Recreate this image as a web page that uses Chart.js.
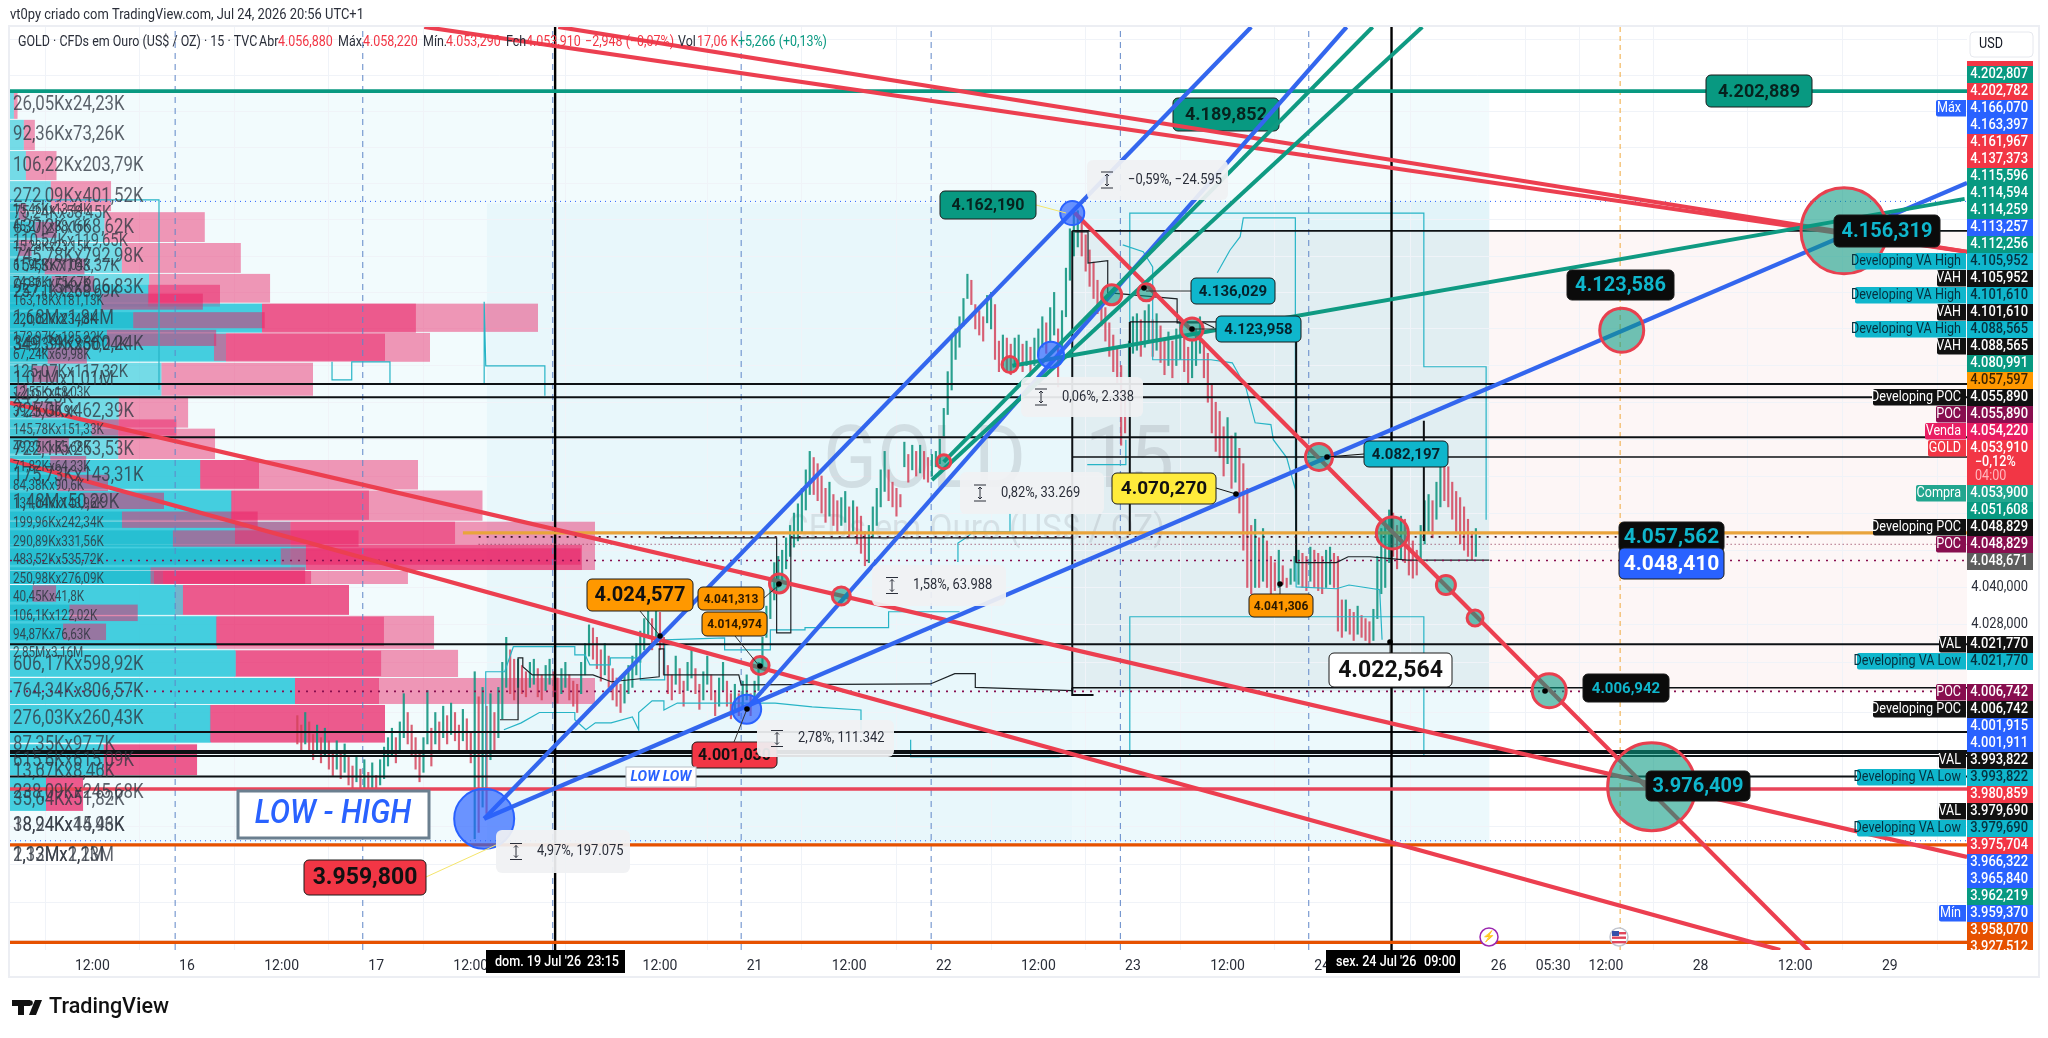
<!DOCTYPE html>
<html>
<head>
<meta charset="utf-8">
<title>GOLD 15</title>
<style>html,body{margin:0;padding:0;background:#fff}canvas{display:block}</style>
<script src="https://cdn.jsdelivr.net/npm/chart.js@4/dist/chart.umd.min.js"></script>
</head>
<body>
<canvas id="grafico" width="2048" height="1038"></canvas>
<script>
// hours counted from 16 Jul 00:00 on the trading time axis
var xTickHours = [-12, 0, 12, 24, 36, 60, 72, 84, 96, 108, 120, 132, 144, 166.4, 173.3, 180, 192, 204, 216];
var xTickLabels = ["12:00", "16", "12:00", "17", "12:00", "12:00", "21", "12:00", "22", "12:00", "23", "12:00", "24", "26", "05:30", "12:00", "28", "12:00", "29"];
var priceTicks = [3928, 3940, 3952, 3964, 3976, 3988, 4000, 4016, 4028, 4040, 4052, 4064, 4076, 4088, 4100, 4112, 4124, 4136, 4148, 4160, 4172, 4184, 4196, 4208, 4220];
var sessionBreaks = [-1.5, 22.3, 46.4, 70.3, 94.4, 118.4, 142.3];
var crossHours = [46.7, 152.8];

// half hour bars starting at hour 14
var candleStart = 14;
var candleHigh = [3999,3996,4000,3997,3993,3996,3992,3995,3991,3988,3991,3987,3990,3986,3983,3986,3982,3985,3981,3984,3980,
3985,3989,3992,3995,3992,3997,4006,4000,3996,3992,3988,3992,4007,3995,
4000,3997,4002,3999,4003,4000,3996,4001,3998,3994,4013,4005,4008,
4002,4006,4000,4008,4016,4024,4020,4017,
4017,4015,4013,4016,4017,4014,4012,4015,4017,4013,4011,4014,4016,4012,4010,4009,
4016,4022,4028,4027,4024,4020,4022,4018,4014,4011,4009,4012,4015,4018,4022,4026,4030,4036,4030,4034,
4032,4024,4015,4012,4018,4014,4010,4016,4020,4014,4009,4013,4018,4012,4007,4011,4016,4010,4006,4009,4006,4010,4012,
4006,4010,4016,4024,4034,4040,4048,4050,4052,4056,4060,4064,4067,4072,4078,4084,4082,
4080,4076,4072,4074,4070,4068,4069,4071,4066,4068,4066,4063,4058,4060,4066,4072,4078,4084,4078,4074,4072,4070,4087,4083,
4086,4084,4086,4084,4082,4083,4084,4088,
4098,4110,4122,4124,4128,4134,4142,4140,4132,4130,4128,4135,4136,4132,
4120,4122,4121,4119,4121,4122,4119,4120,4118,4121,4124,4128,4126,4131,4136,4124,4130,4144,4157,4163,
4163,4160,4155,4150,4146,4140,4136,4131,4126,4122,4118,4112,4104,4120,4128,4129,4127,4130,4132,4127,4129,4125,4121,4123,4120,4124,4126,4122,4118,4120,4124,4128,4120,4116,
4106,4100,4097,4092,4095,4089,4090,4085,4080,4072,4060,4062,4056,4059,4055,4050,4048,4052,4047,4043,4046,4050,4052,4051,4050,4053,4052,4051,4050,4052,4053,4051,
4050,4036,4036,4033,4032,4034,4031,4030,4029,4033,4050,4059,
4062,4065,4064,4060,4063,4062,4058,4055,4052,4060,4068,4070,4068,4074,4082,4080,4079,4074,4071,4069,4066,4062,4058,4059];
var candleLow = [3990,3988,3990,3987,3985,3987,3984,3986,3982,3980,3982,3979,3981,3977,3976,3978,3975,3976,3973,3976,3972,
3977,3979,3983,3986,3984,3987,3992,3990,3986,3982,3978,3981,3990,3983,
3990,3988,3992,3990,3993,3991,3987,3991,3988,3984,3960,3962,3970,
3968,3985,3988,3992,3998,4008,4006,4004,
4008,4006,4005,4008,4009,4005,4004,4007,4009,4005,4003,4006,4008,4004,4002,4000,
4006,4012,4018,4017,4014,4010,4012,4008,4004,4002,4000,4003,4006,4008,4012,4016,4020,4024,4020,4022,
4020,4012,4006,4004,4009,4006,4002,4007,4011,4006,4001,4004,4009,4004,3999,4002,4007,4002,3998,4001,3999,4002,4004,
3999,4003,4007,4014,4024,4030,4036,4040,4042,4046,4050,4053,4055,4058,4065,4070,4070,
4068,4064,4061,4063,4060,4058,4060,4061,4056,4058,4054,4051,4047,4048,4056,4060,4066,4071,4068,4066,4063,4066,4079,4074,
4078,4076,4077,4075,4074,4076,4079,4080,
4089,4096,4104,4114,4118,4125,4134,4132,4124,4122,4120,4126,4124,4114,
4110,4112,4110,4109,4112,4113,4110,4112,4109,4112,4115,4118,4116,4120,4122,4105,4116,4128,4140,4148,
4151,4148,4143,4138,4134,4129,4125,4120,4115,4110,4106,4086,4090,4108,4116,4117,4115,4118,4120,4115,4117,4113,4109,4112,4108,4112,4114,4110,4106,4108,4112,4116,4108,4100,
4090,4084,4082,4076,4080,4072,4074,4064,4052,4040,4038,4040,4040,4042,4040,4038,4039,4040,4041,4040,4041,4042,4041,4040,4039,4042,4040,4039,4038,4040,4041,4040,
4026,4024,4026,4025,4023,4025,4024,4023,4022,4023,4030,4038,
4040,4048,4050,4046,4049,4048,4044,4043,4044,4048,4054,4058,4056,4062,4066,4068,4066,4062,4058,4054,4052,4050,4049,4050];

// large volume profile, row edges in price, volumes in thousands
var bigRowEdges = [4202.8,4193.2,4182.8,4172.8,4162.5,4152.3,4142.1,4132.3,4122.7,4112.9,4101.8,4091.4,4081.2,4071.3,4061.2,4045.3,4040.8,4030.9,4020,4011,4002.4,3990,3979.8,3968.5];
var bigBuy = [26.05,92.36,106.22,272.09,630,745.78,927,1680,1440,1010,725,722,1270,1480,1870,1020,1100,1380,1500,1900,1340,620,240];
var bigSell = [24.23,73.26,203.79,401.52,668.62,792.98,806.83,1840,1360,1010,462.39,644.85,1450,1670,2030,1633,1160,1447,1487,2000,1160,627,247];

// second profile laid over the first one
var midRowTop = [4138.5,4132.3,4122.4,4081.2,4071.3,4061.2,4053.7,4045.3,4040.8,4030.6,4019.7,4011,4002.4,3989.7,3979.2];
var midRowBottom = [4131,4122.4,4113.2,4071.6,4061.5,4053.7,4045.3,4040.8,4030.9,4020.9,4011.3,4002.4,3990.3,3979.8,3968.5];
var midBuy = [920,1680,1360,1267,1473,1500,1973,960,1153,1373,1507,1900,1333,627,240];
var midSell = [480,1026,1140,393,920,1467,1840,1047,1107,1120,967,560,1167,620,247];

// small profile, one row per traded level
var smallRowPrice = [4162.5,4156.5,4150.5,4144.4,4138.6,4132.8,4126.7,4120.9,4115.1,4109.1,4103.5,4097.4,4091.6,4085.8,4079.7,4073.6,4067.8,4061.7,4055.6,4049.8,4043.7,4037.9,4031.7,4025.6];
var smallBuy = [15.46,45.27,15.28,61.95,74.36,163.18,220.02,172.97,67.24,40,12.55,39.2,145.78,49.35,71.82,84.38,131.04,199.96,290.89,483.52,250.98,40.45,106.1,94.87];
var smallSell = [13.44,38.16,23.15,71.04,75.67,181.13,234.8,195.22,69.98,46,18.03,50.9,151.33,55.68,64.33,90.6,143.96,242.34,331.56,535.72,276.09,41.8,122.02,76.63];

var bigLabels = ["26,05Kx24,23K","92,36Kx73,26K","106,22Kx203,79K","272,09Kx401,52K","630,2Kx668,62K","745,78Kx792,98K","927,15Kx806,83K","1,68Mx1,84M","349,39Kx360,24K","1,01Mx1,01M","x49,25K","725,0Kx462,39K","722,1Kx253,53K","175,73Kx143,31K","1,48Mx50,29K","606,17Kx598,92K","764,34Kx806,57K","276,03Kx260,43K","87,35Kx97,7K","615,6Kx615,09K","13,67Kx8,46K","238,09Kx245,68K","35,64Kx51,82K","38,24Kx45,93K","18,94Kx14,46K","2,13Mx2,1M","1,32Mx1,23M"];
var bigLabelTop = [105,135,166,197,228,257,288,319,345,380,398,412,450,476,503,665,692,719,745,761,772,793,800,826,826,856,856];
var smallLabels = ["15,46Kx13,44K","45,27Kx38,16K","15,28Kx23,15K","61,95Kx71,04K","74,36Kx75,67K","163,18Kx181,13K","220,02Kx234,8K","172,97Kx195,22K","67,24Kx69,98K","12,55Kx18,03K","39,2Kx50,9K","145,78Kx151,33K","49,35Kx55,68K","71,82Kx64,33K","84,38Kx90,6K","131,04Kx143,96K","199,96Kx242,34K","290,89Kx331,56K","483,52Kx535,72K","250,98Kx276,09K","40,45Kx41,8K","106,1Kx122,02K","94,87Kx76,63K","2,85Mx3,16M"];
var smallLabelTop = [210,227,247,266,283,301,320,338,355,393,412,430,448,467,486,504,523,542,560,579,597,616,635,653];
var midLabels = ["75,24Kx58,45K","110,54Kx119,65K","154,3Kx163,37K","257,1Kx268,69K","349,39Kx360,24K","125,07Kx117,32K"];
var midLabelTop = [213,241,266,292,345,372];

// circles placed on the trend lines
var redRingHours = [185.8,210.2,182,172.8,152.9,143.6,159.7,163.4,127.5,121.7,117.3,104.4,96,75.1,83,72.7];
var redRingPrices = [3976.409,4156.319,4123.586,4006.942,4057.562,4082.197,4040.8,4030.2,4123.958,4136.029,4135.2,4112.3,4080.6,4041.313,4037.3,4014.974];
var blueRingHours = [37.7,71,109.6,112.3];
var blueRingPrices = [3966.3,4001.03,4115.5,4162.19];

// developing value area outlines, null breaks the line
var vaHours = [-22.45,-3.55,-3.55,null,18.4,18.4,20.9,20.9,25.75,25.75,37.7,37.7,37.9,45.4,45.4,null,
37.9,37.9,40.3,41.4,49.2,49.2,50.5,51.1,53.7,53.7,57.5,57.5,60.6,60.6,68.2,68.2,74,74,78.4,78.4,80.7,89,89,98,null,
40.2,42.4,44.7,49.2,49.2,50.6,51.8,53.8,56.5,57.3,57.3,59,60.5,60.5,62.2,74.6,79.3,85.5,85.5,null,
119.6,119.6,156.9,156.9,null,91.8,91.8,110.7,null,
119.6,119.6,156.9,156.9,164.8,164.8,null,
130.7,132.3,133.6,134,140.6,140.6,null,
97.7,97.8,99,99.7,104.4,104.4,null,
118.7,121.3,122.5,122.5,129.9,132.6,134.3,135.5,137.5,137.8,139.5,140.6,140.7,145.8,147.4,151.3,151.6,null,114.2,119.1,119.1];
var vaPrices = [4166.6,4166.6,4104.1,null,4113.2,4107.3,4107.3,4113.2,4113.2,4106,4106,4132.9,4111.9,4111.9,4102.1,null,
3975.4,4013,4013,4021,4021,4018.4,4018.4,4015.2,4015.2,4017.4,4017.4,4010.4,4010.4,4023.2,4023.8,4020,4020,4026.4,4026.4,4027.1,4027.1,4027.1,4032.2,4032.2,null,
3994.5,3996.7,4000,4000,3997.7,3994.5,3996.7,3996.7,3998.6,3994.5,4000,4003.7,4003.7,4000.8,4003,4003,4001.8,4000.8,3994.5,null,
3985.9,4030.6,4030.6,3985.9,null,3991.3,3985.9,3985.9,null,
4105.7,4162.2,4162.2,4111.6,4111.6,4061.8,null,
4142.5,4149.9,4154.4,4160.6,4160.6,4071.6,null,
4048.4,4054.3,4056.3,4057.9,4057.9,4064,null,
4151.7,4149.4,4144.4,4113.9,4113.9,4112.9,4105,4093.3,4092.7,4087.8,4082,4071.6,4040.2,4039.6,4040.8,4039.3,4023.2,null,4079.7,4079.7,4087.8];

// developing point of control
var pocHours = [39.7,42,42,42.6,42.6,43.8,51.5,53.8,59.9,59.9,60.5,60.5,70,70.3,94.3,97.4,100,100,112.3,null,
112.6,114.3,114.3,116.8,116.8,125.6,125.6,129,130.3,null,140.7,145.8,147.3,150.1,154.8,165.2,null,
60,74.8,74.8,76.6,76.6,112.3];
var pocPrices = [3997.7,3997.7,4017.4,4017.4,4014.6,4012,4012,4009.8,4011.4,4020.3,4020.3,4012,4012,4008.8,4009.1,4012.4,4012.4,4008,4007,null,
4156,4156,4145.7,4146.5,4135.9,4133.9,4126,4126,4124.4,null,4048,4048,4049.9,4049.9,4048.8,4048.8,null,
4056,4056,4025.4,4025.4,4056,4056];

// [hour, price, hour, price]
var redLines = [[30.1,4224.3,225.8,4149.4],[47.1,4224.3,225.8,4149.4],[-22.45,4099.8,225.8,3954.3],[-22.45,4081.2,202.1,3925.1],[112.6,4162.3,205.8,3924.8]];
var blueLines = [[37.7,3966.3,135,4224.3],[37.7,3966.3,225.8,4172.2],[71,4001.2,147.1,4224.3]];
var greenLines = [[96,4080.6,150.4,4224.3],[94.5,4074.7,156.7,4224.3],[104.7,4111.9,225.5,4166.9]];
var levelsThick = [4105.952,4101.61,4088.565,4021.77,3993.822,3987.8,3987.1,3986.2,3979.69];
var levelsFromBox = [4156.319,4082.197,4007.9];
var boxEdges = [[112.3,4156.319,4006.7],[119.6,4126.3,4057],[140.7,4123.7,4048],[156.9,4094,4055]];

var X_LEFT = -22.45, X_RIGHT = 225.8, Y_MIN = 3925.1, Y_MAX = 4224.3;
var BOX_START = 112.3, LAST_BAR = 165.2;
var FONT = "Roboto, sans-serif";

function line(points, color, width, dash) {
	return {type: "line", data: points, borderColor: color, backgroundColor: color, borderWidth: width, borderDash: dash || [], pointRadius: 0, tension: 0, spanGaps: false};
}
function pairs(h, p) {
	var out = [];
	for (var i = 0; i < h.length; i++) out.push({x: h[i], y: p[i]});
	return out;
}

var datasets = [];
sessionBreaks.forEach(function(h){ datasets.push(line([{x:h,y:Y_MIN},{x:h,y:Y_MAX}], "#5f86c8", 1, [6,5])); });
datasets.push(line([{x:181.8,y:Y_MIN},{x:181.8,y:Y_MAX}], "#f0a83c", 1, [5,4]));

var wicks = [], wickColors = [];
candleHigh.forEach(function(hi, i){
	wicks.push({x: candleStart + i * 0.5, y: [candleLow[i], hi]});
	wickColors.push(i > 0 && hi >= candleHigh[i - 1] ? "rgba(20,150,130,0.9)" : "rgba(212,68,92,0.85)");
});
datasets.push({type: "bar", data: wicks, backgroundColor: wickColors, barThickness: 1.5, borderWidth: 0});

datasets.push(line(pairs(vaHours, vaPrices), "#27b4c6", 1.2));
datasets.push(line(pairs(pocHours, pocPrices), "#1c2226", 1.2));

levelsThick.forEach(function(v){ datasets.push(line([{x:X_LEFT,y:v},{x:X_RIGHT,y:v}], "#0d1114", 2)); });
levelsFromBox.forEach(function(v){ datasets.push(line([{x:BOX_START,y:v},{x:X_RIGHT,y:v}], "#0d1114", 1.6)); });
boxEdges.forEach(function(b){ datasets.push(line([{x:b[0],y:b[1]},{x:b[0],y:b[2]}], "#0d1114", 2)); });
datasets.push(line([{x:112.3,y:4007.9},{x:112.3,y:4005.6},{x:115,y:4005.6}], "#0d1114", 2));
datasets.push(line([{x:119.6,y:4126.3},{x:140.7,y:4126.3}], "#0d1114", 1.2));
crossHours.forEach(function(h){ datasets.push(line([{x:h,y:Y_MIN},{x:h,y:Y_MAX}], "#000", 2.4)); });

datasets.push(line([{x:X_LEFT,y:4166.07},{x:X_RIGHT,y:4166.07}], "#2962ff", 1, [1,4]));
datasets.push(line([{x:X_LEFT,y:3959.37},{x:X_RIGHT,y:3959.37}], "#2962ff", 1, [1,4]));
datasets.push(line([{x:37,y:4056.3},{x:X_RIGHT-20,y:4056.3}], "#3a1020", 1.6, [2,6]));
datasets.push(line([{x:37,y:4053.91},{x:X_RIGHT,y:4053.91}], "#8a2a4a", 1, [1,3]));
datasets.push(line([{x:X_LEFT,y:4048.671},{x:X_RIGHT,y:4048.671}], "#880e4f", 1.6, [2,6]));
datasets.push(line([{x:X_LEFT,y:4006.742},{x:X_RIGHT,y:4006.742}], "#880e4f", 1.6, [2,6]));

datasets.push(line([{x:X_LEFT,y:4202.8},{x:X_RIGHT,y:4202.8}], "#089981", 3.6));
datasets.push(line([{x:35,y:4057.597},{x:X_RIGHT,y:4057.597}], "#e9a43c", 3.2));
datasets.push(line([{x:X_LEFT,y:3975.7},{x:X_RIGHT,y:3975.7}], "#e8455a", 3.6));
datasets.push(line([{x:X_LEFT,y:3958.07},{x:X_RIGHT,y:3958.07}], "#e65100", 3.2));
datasets.push(line([{x:X_LEFT,y:3927.512},{x:X_RIGHT,y:3927.512}], "#e65100", 3.2));

redLines.forEach(function(l){ datasets.push(line([{x:l[0],y:l[1]},{x:l[2],y:l[3]}], "#ec3f50", 4.2)); });
blueLines.forEach(function(l){ datasets.push(line([{x:l[0],y:l[1]},{x:l[2],y:l[3]}], "#3366ee", 4.2)); });
greenLines.forEach(function(l){ datasets.push(line([{x:l[0],y:l[1]},{x:l[2],y:l[3]}], "#0f9a82", 4)); });

datasets.push({type: "scatter", data: pairs(redRingHours, redRingPrices), showLine: false,
	pointRadius: [44,43,22,17,16,13.5,9.5,8,11,8.5,10,8,7,9.5,9,9],
	pointBackgroundColor: "rgba(8,153,129,0.58)", pointBorderColor: "#e8404f", pointBorderWidth: 3});
datasets.push({type: "scatter", data: pairs(blueRingHours, blueRingPrices), showLine: false,
	pointRadius: [30,14.5,13,12],
	pointBackgroundColor: "rgba(41,98,255,0.68)", pointBorderColor: "#2962ff", pointBorderWidth: 2});

// later entries are painted on top
datasets.forEach(function(d, i){ d.order = datasets.length - i; d.clip = 0; });

function text(ctx, str, x, y, size, color, align, weight, squeeze) {
	ctx.save();
	ctx.translate(x, y);
	ctx.scale(squeeze || 1, 1);
	ctx.font = (weight || "400") + " " + size + "px " + FONT;
	ctx.textAlign = align || "left";
	ctx.textBaseline = "middle";
	ctx.fillStyle = color;
	ctx.fillText(str, 0, 0);
	ctx.restore();
}
function band(ctx, c, h0, h1, p0, p1, color) {
	var x0 = c.scales.x.getPixelForValue(h0), x1 = c.scales.x.getPixelForValue(h1);
	var y0 = c.scales.y.getPixelForValue(p0), y1 = c.scales.y.getPixelForValue(p1);
	ctx.fillStyle = color;
	ctx.fillRect(x0, y0, x1 - x0, y1 - y0);
}
function volumeRow(ctx, c, axis, top, bottom, buy, sell, blue, pink) {
	var s = c.scales[axis], y0 = c.scales.y.getPixelForValue(top), y1 = c.scales.y.getPixelForValue(bottom);
	var a = s.getPixelForValue(0), b = s.getPixelForValue(buy), e = s.getPixelForValue(buy + sell);
	ctx.fillStyle = blue;
	ctx.fillRect(a, y0, b - a, y1 - y0 - 1);
	ctx.fillStyle = pink;
	ctx.fillRect(b, y0, e - b, y1 - y0 - 1);
}
function tag(ctx, b) {
	ctx.fillStyle = b[5];
	ctx.strokeStyle = "#1a1a1a";
	ctx.lineWidth = 1;
	ctx.beginPath();
	ctx.roundRect(b[1], b[2], b[3] - b[1], b[4] - b[2], 5);
	ctx.fill();
	ctx.stroke();
	text(ctx, b[0], (b[1] + b[3]) / 2, (b[2] + b[4]) / 2 + 1, b[7], b[6], "center", "700");
}

// [text, left, top, right, bottom, fill, ink, size]
var calloutsUnder = [
	["4.189,852",1173,98,1279,131,"#089981","#06231e",18]
];
var callouts = [
	["4.202,889",1706,75,1812,107,"#089981","#06231e",18],
	["4.162,190",940,191,1036,219,"#089981","#06231e",16],
	["4.136,029",1191,278,1275,304,"#0fb6cc","#06222b",15],
	["4.123,958",1216,316,1301,342,"#0fb6cc","#06222b",15],
	["4.082,197",1364,441,1448,467,"#0fb6cc","#06222b",15],
	["4.070,270",1112,473,1216,504,"#ffeb3b","#111",19],
	["4.041,306",1249,594,1313,617,"#ff9800","#2a1800",12],
	["4.022,564",1329,653,1452,687,"#ffffff","#111",23],
	["4.006,942",1583,674,1669,702,"#0b0b0b","#0fb6cc",15],
	["4.057,562",1619,522,1724,552,"#0b0b0b","#0fb6cc",21],
	["4.048,410",1619,548,1724,579,"#2962ff","#ffffff",21],
	["4.156,319",1834,215,1940,247,"#0b0b0b","#0fb6cc",20],
	["4.123,586",1567,270,1674,300,"#0b0b0b","#0fb6cc",20],
	["3.976,409",1646,771,1750,801,"#0b0b0b","#0fb6cc",20],
	["4.024,577",587,579,693,611,"#ff9800","#111",20],
	["4.041,313",698,587,764,610,"#ff9800","#2a1800",12],
	["4.014,974",702,612,767,636,"#ff9800","#2a1800",12],
	["4.001,030",692,742,777,768,"#f23645","#111",16],
	["3.959,800",304,860,426,895,"#f23645","#111",23]
];
// [left, top, right, bottom, text]
var measureBoxes = [
	[496,830,630,873,"4,97%, 197.075"],
	[757,720,894,757,"2,78%, 111.342"],
	[872,565,1006,606,"1,58%, 63.988"],
	[960,472,1104,514,"0,82%, 33.269"],
	[1021,377,1143,417,"0,06%, 2.338"],
	[1087,160,1228,200,"\u22120,59%, \u221224.595"]
];
// thin connectors between tags and anchors
var leaders = [
	[426,877,496,845,"#f5e56b"],[1036,205,1066,213,"#f5e56b"],
	[1275,291,1146,291,"#333"],[1301,329,1192,329,"#333"],[1364,454,1327,457,"#111"],
	[1216,488,1236,494,"#111"],[1280,594,1280,584,"#333"],[1390,653,1390,642,"#333"],
	[640,611,660,636,"#333"],[764,598,779,585,"#333"],[735,636,760,667,"#333"],[734,742,747,709,"#333"]
];
var anchorDots = [[660,636],[747,709],[779,584],[760,666],[1327,457],[1236,494],[1280,584],[1390,642],[1545,691],[1144,288],[1192,329]];

// right hand price column: [price text, kind, tag, tag left]
var axisStyle = {
	g:["#089981","#fff"], r:["#f23645","#fff"], b:["#2962ff","#fff"], c:["#0fb6cc","#06303e"], k:["#111","#fff"],
	o:["#ff9800","#3a2400"], p:["#880e4f","#fff"], v:["#e91e63","#fff"], t:["#22a68f","#fff"], y:["#5d5d5d","#fff"], d:["#e65100","#fff"]
};
var axisRows = [
	["4.202,807","g"],["4.202,782","r"],["4.166,070","b","M\u00e1x",1936],["4.163,397","b"],["4.161,967","r"],["4.137,373","r"],
	["4.115,596","g"],["4.114,594","g"],["4.114,259","g"],["4.113,257","b"],["4.112,256","g"],
	["4.105,952","c","Developing VA High",1855],["4.105,952","k","VAH",1937],["4.101,610","c","Developing VA High",1855],["4.101,610","k","VAH",1937],
	["4.088,565","c","Developing VA High",1855],["4.088,565","k","VAH",1937],["4.080,991","g"],["4.057,597","o"],
	["4.055,890","k","Developing POC",1873],["4.055,890","p","POC",1936],["4.054,220","v","Venda",1925]
];
var axisRowsBelow = [
	["4.053,900","t","Compra",1916],["4.051,608","g"],["4.048,829","k","Developing POC",1873],["4.048,829","p","POC",1936],["4.048,671","y"]
];
var axisRowsVal = [["4.021,770","k","VAL",1939],["4.021,770","c","Developing VA Low",1857]];
var axisRowsLow = [
	["4.006,742","p","POC",1936],["4.006,742","k","Developing POC",1873],["4.001,915","b"],["4.001,911","b"],
	["3.993,822","k","VAL",1939],["3.993,822","c","Developing VA Low",1857],["3.980,859","r"],["3.979,690","k","VAL",1939],
	["3.979,690","c","Developing VA Low",1857],["3.975,704","r"],["3.966,322","b"],["3.965,840","b"],["3.962,219","g"],
	["3.959,370","b","M\u00edn",1939],["3.958,070","d"],["3.927,512","d"]
];

function axisRow(ctx, row, top) {
	var st = axisStyle[row[1]];
	if (row[2]) {
		ctx.fillStyle = st[0];
		ctx.beginPath();
		ctx.roundRect(row[3], top, 1966 - row[3], 16.4, [2,0,0,2]);
		ctx.fill();
		text(ctx, row[2], 1961, top + 8.5, 15, st[1], "right", "400", 0.84);
	}
	ctx.fillStyle = st[0];
	ctx.fillRect(1967, top, 66, 17);
	text(ctx, row[0], 2028, top + 8.5, 15, st[1], "right", "500", 0.86);
}
function axisColumn(ctx) {
	var y, i;
	ctx.save();
	ctx.beginPath();
	ctx.rect(1850, 50, 190, 900);
	ctx.clip();
	ctx.fillStyle = "#f23645";
	ctx.fillRect(1967, 61, 66, 5);
	y = 66;
	for (i = 0; i < axisRows.length; i++) { axisRow(ctx, axisRows[i], y); y += 17; }
	// current price block
	ctx.fillStyle = "#f23645";
	ctx.fillRect(1967, y, 66, 45);
	ctx.beginPath();
	ctx.roundRect(1928, y, 38, 16.4, [2,0,0,2]);
	ctx.fill();
	text(ctx, "GOLD", 1961, y + 8.5, 15, "#fff", "right", "400", 0.84);
	text(ctx, "4.053,910", 2028, y + 8.5, 15, "#fff", "right", "500", 0.86);
	text(ctx, "\u22120,12%", 1975, y + 22, 14, "#fff", "left", "500", 0.9);
	text(ctx, "04:00", 1975, y + 36, 14, "#ffb7bd", "left", "400", 0.9);
	y += 45;
	for (i = 0; i < axisRowsBelow.length; i++) { axisRow(ctx, axisRowsBelow[i], y); y += 17; }
	text(ctx, "4.040,000", 2028, 587, 15, "#2a2e39", "right", "400", 0.86);
	text(ctx, "4.028,000", 2028, 624, 15, "#2a2e39", "right", "400", 0.86);
	y = 636;
	for (i = 0; i < axisRowsVal.length; i++) { axisRow(ctx, axisRowsVal[i], y); y += 17; }
	y = 684;
	for (i = 0; i < axisRowsLow.length; i++) { axisRow(ctx, axisRowsLow[i], y); y += 17; }
	ctx.restore();
}

function legendLine(ctx) {
	var red = "#f23645", ink = "#2a2e39";
	text(ctx, "vt0py criado com TradingView.com, Jul 24, 2026 20:56 UTC+1", 10, 15, 15, ink, "left", "400", 0.86);
	text(ctx, "GOLD \u00b7 CFDs em Ouro (US$ / OZ) \u00b7 15 \u00b7 TVC", 18, 42, 14.5, ink, "left", "400", 0.86);
	text(ctx, "Abr", 259, 42, 14.5, ink, "left", "400", 0.86); text(ctx, "4.056,880", 278, 42, 14.5, red, "left", "400", 0.86);
	text(ctx, "M\u00e1x.", 338, 42, 14.5, ink, "left", "400", 0.86); text(ctx, "4.058,220", 363, 42, 14.5, red, "left", "400", 0.86);
	text(ctx, "M\u00edn.", 423, 42, 14.5, ink, "left", "400", 0.86); text(ctx, "4.053,290", 446, 42, 14.5, red, "left", "400", 0.86);
	text(ctx, "Fch", 506, 42, 14.5, ink, "left", "400", 0.86); text(ctx, "4.053,910", 526, 42, 14.5, red, "left", "400", 0.86);
	text(ctx, "\u22122,948 (\u22120,07%)", 585, 42, 14.5, red, "left", "400", 0.86);
	text(ctx, "Vol", 678, 42, 14.5, ink, "left", "400", 0.86); text(ctx, "17,06 K", 697, 42, 14.5, red, "left", "400", 0.86);
	text(ctx, "+5,266 (+0,13%)", 738, 42, 14.5, "#089981", "left", "400", 0.86);
}
function logo(ctx) {
	ctx.fillStyle = "#111";
	ctx.fillRect(12, 1000, 18, 6);
	ctx.fillRect(18, 1000, 6, 15);
	ctx.beginPath(); ctx.arc(30, 1003, 2.8, 0, Math.PI * 2); ctx.fill();
	ctx.beginPath(); ctx.moveTo(35, 1000); ctx.lineTo(42, 1000); ctx.lineTo(36, 1015); ctx.lineTo(29, 1015); ctx.closePath(); ctx.fill();
	text(ctx, "TradingView", 49, 1007, 22, "#111", "left", "500", 0.98);
}

var decor = {
	id: "decor",
	beforeDraw: function(c) {
		var ctx = c.ctx;
		ctx.save();
		ctx.fillStyle = "#fff";
		ctx.fillRect(0, 0, 2048, 1038);
		band(ctx, c, X_LEFT, LAST_BAR, 4202.8, 3958.07, "#f2fbfd");
		band(ctx, c, 38.05, BOX_START, 4165.4, 3958.07, "#e8f7fb");
		band(ctx, c, BOX_START, LAST_BAR, 4166.07, 4156.319, "#e2f4f9");
		band(ctx, c, BOX_START, LAST_BAR, 4156.319, 4006.742, "#e1eef2");
		band(ctx, c, BOX_START, LAST_BAR, 4006.742, 3958.07, "#ecf9fc");
		band(ctx, c, LAST_BAR, X_RIGHT, 4156.319, 4006.742, "#fdf6f6");
		ctx.strokeStyle = "#eceef3";
		ctx.lineWidth = 2;
		ctx.strokeRect(9, 26, 2030, 951);
		ctx.restore();
	},
	beforeDatasetsDraw: function(c) {
		var ctx = c.ctx, i;
		ctx.save();
		// symbol watermark
		text(ctx, "GOLD", 823, 465, 88, "rgba(120,123,134,0.2)", "left", "400", 0.9);
		text(ctx, "15", 1085, 465, 88, "rgba(120,123,134,0.2)", "left", "400", 0.9);
		text(ctx, "CFDs em Ouro (US$ / OZ)", 787, 531, 37, "rgba(120,123,134,0.18)", "left", "400", 0.9);
		for (i = 0; i < bigBuy.length; i++)
			volumeRow(ctx, c, "xBig", bigRowEdges[i], bigRowEdges[i + 1], bigBuy[i], bigSell[i], "rgba(38,198,218,0.62)", "rgba(233,30,99,0.46)");
		for (i = 0; i < midBuy.length; i++)
			volumeRow(ctx, c, "xBig", midRowTop[i], midRowBottom[i], midBuy[i], midSell[i], "rgba(38,198,218,0.62)", "rgba(233,30,99,0.5)");
		for (i = 0; i < smallBuy.length; i++)
			volumeRow(ctx, c, "xSmall", smallRowPrice[i] + 2.8, smallRowPrice[i] - 2.8, smallBuy[i], smallSell[i], "rgba(0,172,193,0.42)", "rgba(233,30,99,0.5)");
		calloutsUnder.forEach(function(b){ tag(ctx, b); });
		ctx.restore();
	},
	afterDatasetsDraw: function(c) {
		var ctx = c.ctx;
		ctx.save();
		// profile captions
		bigLabels.forEach(function(t, i){ text(ctx, t, 13, bigLabelTop[i], 21, "rgba(48,54,64,0.78)", "left", "400", 0.8); });
		midLabels.forEach(function(t, i){ text(ctx, t, 13, midLabelTop[i], 18.5, "rgba(48,54,64,0.78)", "left", "400", 0.8); });
		smallLabels.forEach(function(t, i){ text(ctx, t, 13, smallLabelTop[i], 15, "rgba(48,54,64,0.85)", "left", "400", 0.78); });

		leaders.forEach(function(l){
			ctx.strokeStyle = l[4];
			ctx.lineWidth = 1;
			ctx.beginPath(); ctx.moveTo(l[0], l[1]); ctx.lineTo(l[2], l[3]); ctx.stroke();
		});
		ctx.fillStyle = "#000";
		anchorDots.forEach(function(d){ ctx.beginPath(); ctx.arc(d[0], d[1], 2.8, 0, Math.PI * 2); ctx.fill(); });

		callouts.forEach(function(b){ tag(ctx, b); });
		measureBoxes.forEach(function(m){
			ctx.fillStyle = "rgba(240,241,243,0.93)";
			ctx.beginPath();
			ctx.roundRect(m[0], m[1], m[2] - m[0], m[3] - m[1], 6);
			ctx.fill();
			var ix = m[0] + 20, iy = (m[1] + m[3]) / 2;
			ctx.strokeStyle = "#2a2e39";
			ctx.lineWidth = 1;
			ctx.beginPath();
			ctx.moveTo(ix - 6, iy - 8); ctx.lineTo(ix + 6, iy - 8);
			ctx.moveTo(ix - 6, iy + 8); ctx.lineTo(ix + 6, iy + 8);
			ctx.moveTo(ix, iy - 6); ctx.lineTo(ix, iy + 6);
			ctx.moveTo(ix - 2, iy - 4); ctx.lineTo(ix, iy - 6); ctx.lineTo(ix + 2, iy - 4);
			ctx.moveTo(ix - 2, iy + 4); ctx.lineTo(ix, iy + 6); ctx.lineTo(ix + 2, iy + 4);
			ctx.stroke();
			text(ctx, m[4], m[0] + 41, iy, 15, "#2a2e39", "left", "400", 0.86);
		});

		// titled boxes on the left
		ctx.fillStyle = "#fff";
		ctx.strokeStyle = "#6b7f8f";
		ctx.lineWidth = 3;
		ctx.fillRect(238, 791, 191, 47);
		ctx.strokeRect(238, 791, 191, 47);
		text(ctx, "LOW - HIGH", 333, 815, 33, "#2962ff", "center", "italic 500", 0.92);
		ctx.lineWidth = 1;
		ctx.strokeStyle = "#b8c0c8";
		ctx.fillRect(626, 767, 70, 20);
		ctx.strokeRect(626, 767, 70, 20);
		text(ctx, "LOW LOW", 661, 777, 15, "#2962ff", "center", "italic 700", 0.95);

		legendLine(ctx);

		// event markers
		ctx.lineWidth = 1.5;
		ctx.strokeStyle = "#9c27b0";
		ctx.fillStyle = "#fff";
		ctx.beginPath(); ctx.arc(1489, 937, 9, 0, Math.PI * 2); ctx.fill(); ctx.stroke();
		text(ctx, "\u26a1", 1489, 937, 11, "#9c27b0", "center");
		ctx.strokeStyle = "#c2c6d0";
		ctx.beginPath(); ctx.arc(1619, 937, 9, 0, Math.PI * 2); ctx.fill(); ctx.stroke();
		ctx.fillStyle = "#e0455a";
		ctx.fillRect(1612, 932, 14, 2.4); ctx.fillRect(1612, 936.5, 14, 2.4); ctx.fillRect(1612, 941, 14, 2.4);
		ctx.fillStyle = "#3550a8";
		ctx.fillRect(1612, 931, 7, 5);
		ctx.restore();
	},
	afterDraw: function(c) {
		var ctx = c.ctx;
		ctx.save();
		axisColumn(ctx);
		ctx.strokeStyle = "#e6e8ee";
		ctx.lineWidth = 1;
		ctx.fillStyle = "#fff";
		ctx.beginPath();
		ctx.roundRect(1970, 32, 63, 25, 4);
		ctx.fill();
		ctx.stroke();
		text(ctx, "USD", 1979, 44, 14, "#131722", "left", "400", 0.9);
		// crosshair time tags
		ctx.fillStyle = "#000";
		ctx.fillRect(486, 950, 139, 23);
		ctx.fillRect(1326, 950, 134, 23);
		text(ctx, "dom. 19 Jul '26", 495, 962, 15, "#fff", "left", "500", 0.84);
		text(ctx, "23:15", 587, 962, 15, "#fff", "left", "500", 0.84);
		text(ctx, "sex. 24 Jul '26", 1336, 962, 15, "#fff", "left", "500", 0.84);
		text(ctx, "09:00", 1424, 962, 15, "#fff", "left", "500", 0.84);
		logo(ctx);
		ctx.restore();
	}
};

new Chart(document.getElementById("grafico").getContext("2d"), {
	data: {datasets: datasets},
	plugins: [decor],
	options: {
		responsive: false,
		devicePixelRatio: 1,
		animation: false,
		events: [],
		layout: {padding: {left: 10, right: 81, top: 27, bottom: 58}, autoPadding: false},
		plugins: {legend: {display: false}, tooltip: {enabled: false}, title: {display: false}},
		scales: {
			x: {
				type: "linear", min: X_LEFT, max: X_RIGHT, offset: false,
				grid: {color: "#f0f3f8", drawTicks: false},
				border: {display: false},
				afterBuildTicks: function(s){ s.ticks = xTickHours.map(function(v){ return {value: v}; }); },
				afterFit: function(s){ s.height = 30; },
				ticks: {
					autoSkip: false, maxRotation: 0, padding: 8, color: "#2a2e39",
					font: {family: FONT, size: 14},
					callback: function(v){ var i = xTickHours.indexOf(v); return i < 0 ? "" : xTickLabels[i]; }
				}
			},
			y: {
				type: "logarithmic", position: "right", min: Y_MIN, max: Y_MAX,
				grid: {color: "#f0f3f8", drawTicks: false},
				border: {display: false},
				afterBuildTicks: function(s){ s.ticks = priceTicks.map(function(v){ return {value: v}; }); },
				afterFit: function(s){ s.width = 0; },
				ticks: {display: false}
			},
			// volume lengths, one axis per profile size
			xBig: {type: "linear", display: false, min: 0, max: 13047, axis: "x"},
			xSmall: {type: "linear", display: false, min: 0, max: 3495, axis: "x"}
		}
	}
});
</script>
</body>
</html>
